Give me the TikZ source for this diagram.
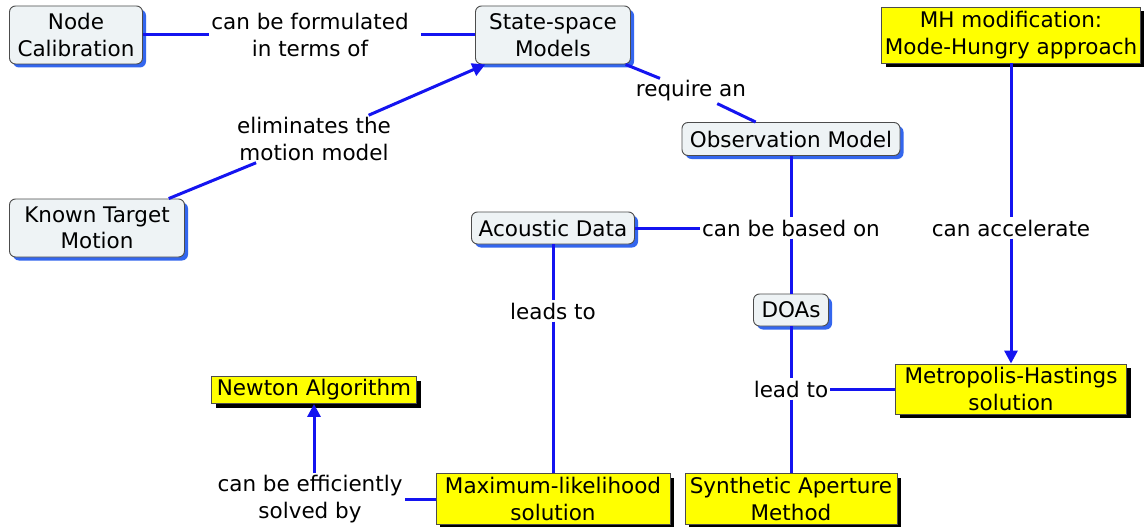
\documentclass[tikz,border=0pt]{standalone}
\usepackage{fontspec}
\setmainfont{DejaVu Sans}
\usetikzlibrary{shadows,arrows.meta}
\definecolor{conc}{HTML}{EEF3F5}
\definecolor{shb}{HTML}{3366EE}
\definecolor{lnb}{HTML}{1414F0}
\definecolor{yel}{HTML}{FFFF00}
\tikzset{
  txt/.style={font=\fontsize{21.5}{26.5}\selectfont, text=black},
  concept/.style={txt, draw=black!70, line width=0.9pt, fill=conc, rounded corners=6pt, align=center,
    inner sep=2pt,
    drop shadow={shadow xshift=3.5pt, shadow yshift=-3.5pt, fill=shb, opacity=1}},
  result/.style={txt, draw=black!70, line width=0.9pt, fill=yel, align=center,
    inner sep=1pt,
    drop shadow={shadow xshift=4pt, shadow yshift=-4pt, fill=black, opacity=1}},
  lbl/.style={txt, align=center, inner sep=2pt},
  conn/.style={draw=lnb, line width=3pt},
  arr/.style={conn, -{Triangle[length=13pt,width=13pt]}},
}
\begin{document}
\begin{tikzpicture}[x=1pt,y=-1pt]
\useasboundingbox[fill=white] (0,0) rectangle (1144,527);
% concepts
\node[concept, minimum width=133pt, minimum height=58pt] (nc) at (76,35) {Node\\Calibration};
\node[concept, minimum width=155pt, minimum height=58pt] (ssm) at (553,35) {State-space\\Models};
\node[concept, minimum width=175pt, minimum height=58pt] (ktm) at (97,228) {Known Target\\Motion};
\node[concept, minimum width=218pt, minimum height=33pt] (obs) at (791,139) {Observation Model};
\node[concept, minimum width=163pt, minimum height=32pt] (ac) at (553,228) {Acoustic Data};
\node[concept, minimum width=75pt, minimum height=32pt] (doa) at (791,310) {DOAs};
% results
\node[result, minimum width=259pt, minimum height=56pt] (mhm) at (1011,35) {MH modification:\\Mode-Hungry approach};
\node[result, minimum width=231pt, minimum height=50pt] (mh) at (1011,389) {Metropolis-Hastings\\solution};
\node[result, minimum width=205pt, minimum height=27pt] (nw) at (314,390) {Newton Algorithm};
\node[result, minimum width=234pt, minimum height=51pt] (ml) at (553,499) {Maximum-likelihood\\solution};
\node[result, minimum width=212pt, minimum height=51pt] (sam) at (791,499) {Synthetic Aperture\\Method};
% linking phrases
\node[lbl] (l1) at (310,35) {can be formulated\\in terms of};
\node[lbl] (l2) at (314,139) {eliminates the\\motion model};
\node[lbl] (l3) at (691,91) {require an};
\node[lbl] (l4) at (791,228) {can be based on};
\node[lbl] (l5) at (1011,228) {can accelerate};
\node[lbl] (l6) at (553,311) {leads to};
\node[lbl] (l7) at (791,389) {lead to};
\node[lbl] (l8) at (310,499) {can be efficiently\\solved by};
% connectors
\draw[conn] (nc) -- (l1);
\draw[conn, shorten <=10pt] (l1) -- (ssm);
\draw[conn] (ktm) -- (l2);
\draw[arr] (l2) -- (ssm);
\draw[conn] (ssm) -- (l3);
\draw[conn] (l3) -- (obs);
\draw[conn] (obs) -- (l4);
\draw[conn] (l4) -- (ac);
\draw[conn] (l4) -- (doa);
\draw[conn] (ac) -- (l6);
\draw[conn] (l6) -- (ml);
\draw[conn] (doa) -- (l7);
\draw[conn] (l7) -- (sam);
\draw[conn] (l7) -- (mh);
\draw[conn] (mhm) -- (l5);
\draw[arr] (l5) -- (mh);
\draw[conn] (ml) -- (l8);
\draw[arr] (l8.north -| nw) -- (nw);
\end{tikzpicture}
\end{document}
